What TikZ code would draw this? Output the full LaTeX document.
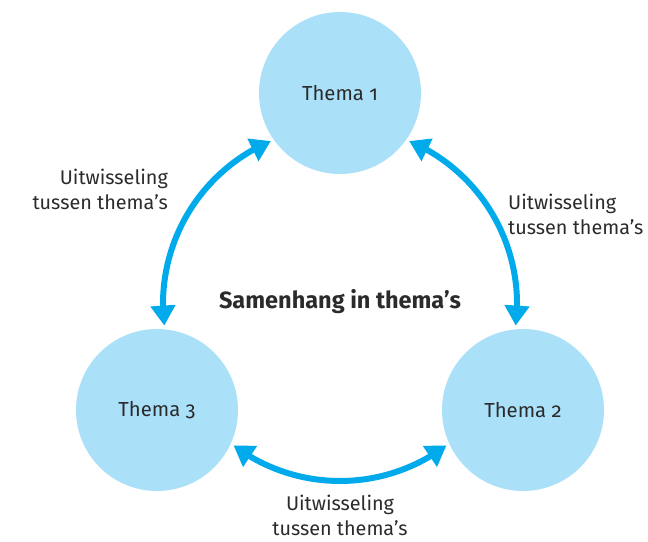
\documentclass[tikz,border=0pt]{standalone}
\usepackage{fontspec}
\setmainfont{Fira Sans}[Numbers=OldStyle]
\usetikzlibrary{arrows.meta,bending,calc}
\definecolor{arrowblue}{HTML}{00AAEB}
\definecolor{circfill}{HTML}{ABE0F9}
\definecolor{txt}{HTML}{2B2B2B}
\begin{document}
\begin{tikzpicture}[x=1pt,y=1pt,
  thema/.style={circle,fill=circfill,minimum size=162pt,inner sep=0pt,text=txt,font=\fontsize{20.3}{24}\selectfont},
  lbl/.style={text=txt,font=\fontsize{19.8}{25}\selectfont,inner sep=0pt},
  exch/.style={draw=arrowblue,line width=6pt,{Triangle[length=20pt,width=24pt,flex]}-{Triangle[length=20pt,width=24pt,flex]}}]
\useasboundingbox (0,0) rectangle (648,541);
\coordinate (C) at (340,237);
\node[thema] (t1) at (340,448) {Thema 1};
\node[thema] (t3) at (157,131) {Thema 3};
\node[thema] (t2) at (523,131) {Thema 2};
\node[text=txt,font=\fontsize{23.5}{27}\bfseries\selectfont,inner sep=0pt] (title) at (340,239) {Samenhang in thema’s};
% arc end points on the ring round the centre
\coordinate (a1) at ($(C)+(113:177)$);
\coordinate (a3) at ($(C)+(187:177)$);
\coordinate (b3) at ($(C)+(233:177)$);
\coordinate (b2) at ($(C)+(307:177)$);
\coordinate (c2) at ($(C)+(353:177)$);
\coordinate (c1) at ($(C)+(67:177)$);
\draw[exch] (a1) arc[start angle=113,end angle=187,radius=177];
\draw[exch] (b3) arc[start angle=233,end angle=307,radius=177];
\draw[exch] (c2) arc[start angle=-7,end angle=67,radius=177];
\node[lbl,anchor=east,align=right] (l1) at (168,352) {Uitwisseling\\tussen thema’s};
\node[lbl,anchor=west,align=left] (l2) at (508,327) {Uitwisseling\\tussen thema’s};
\node[lbl,align=center] (l3) at (340,26) {Uitwisseling\\tussen thema’s};
\end{tikzpicture}
\end{document}
